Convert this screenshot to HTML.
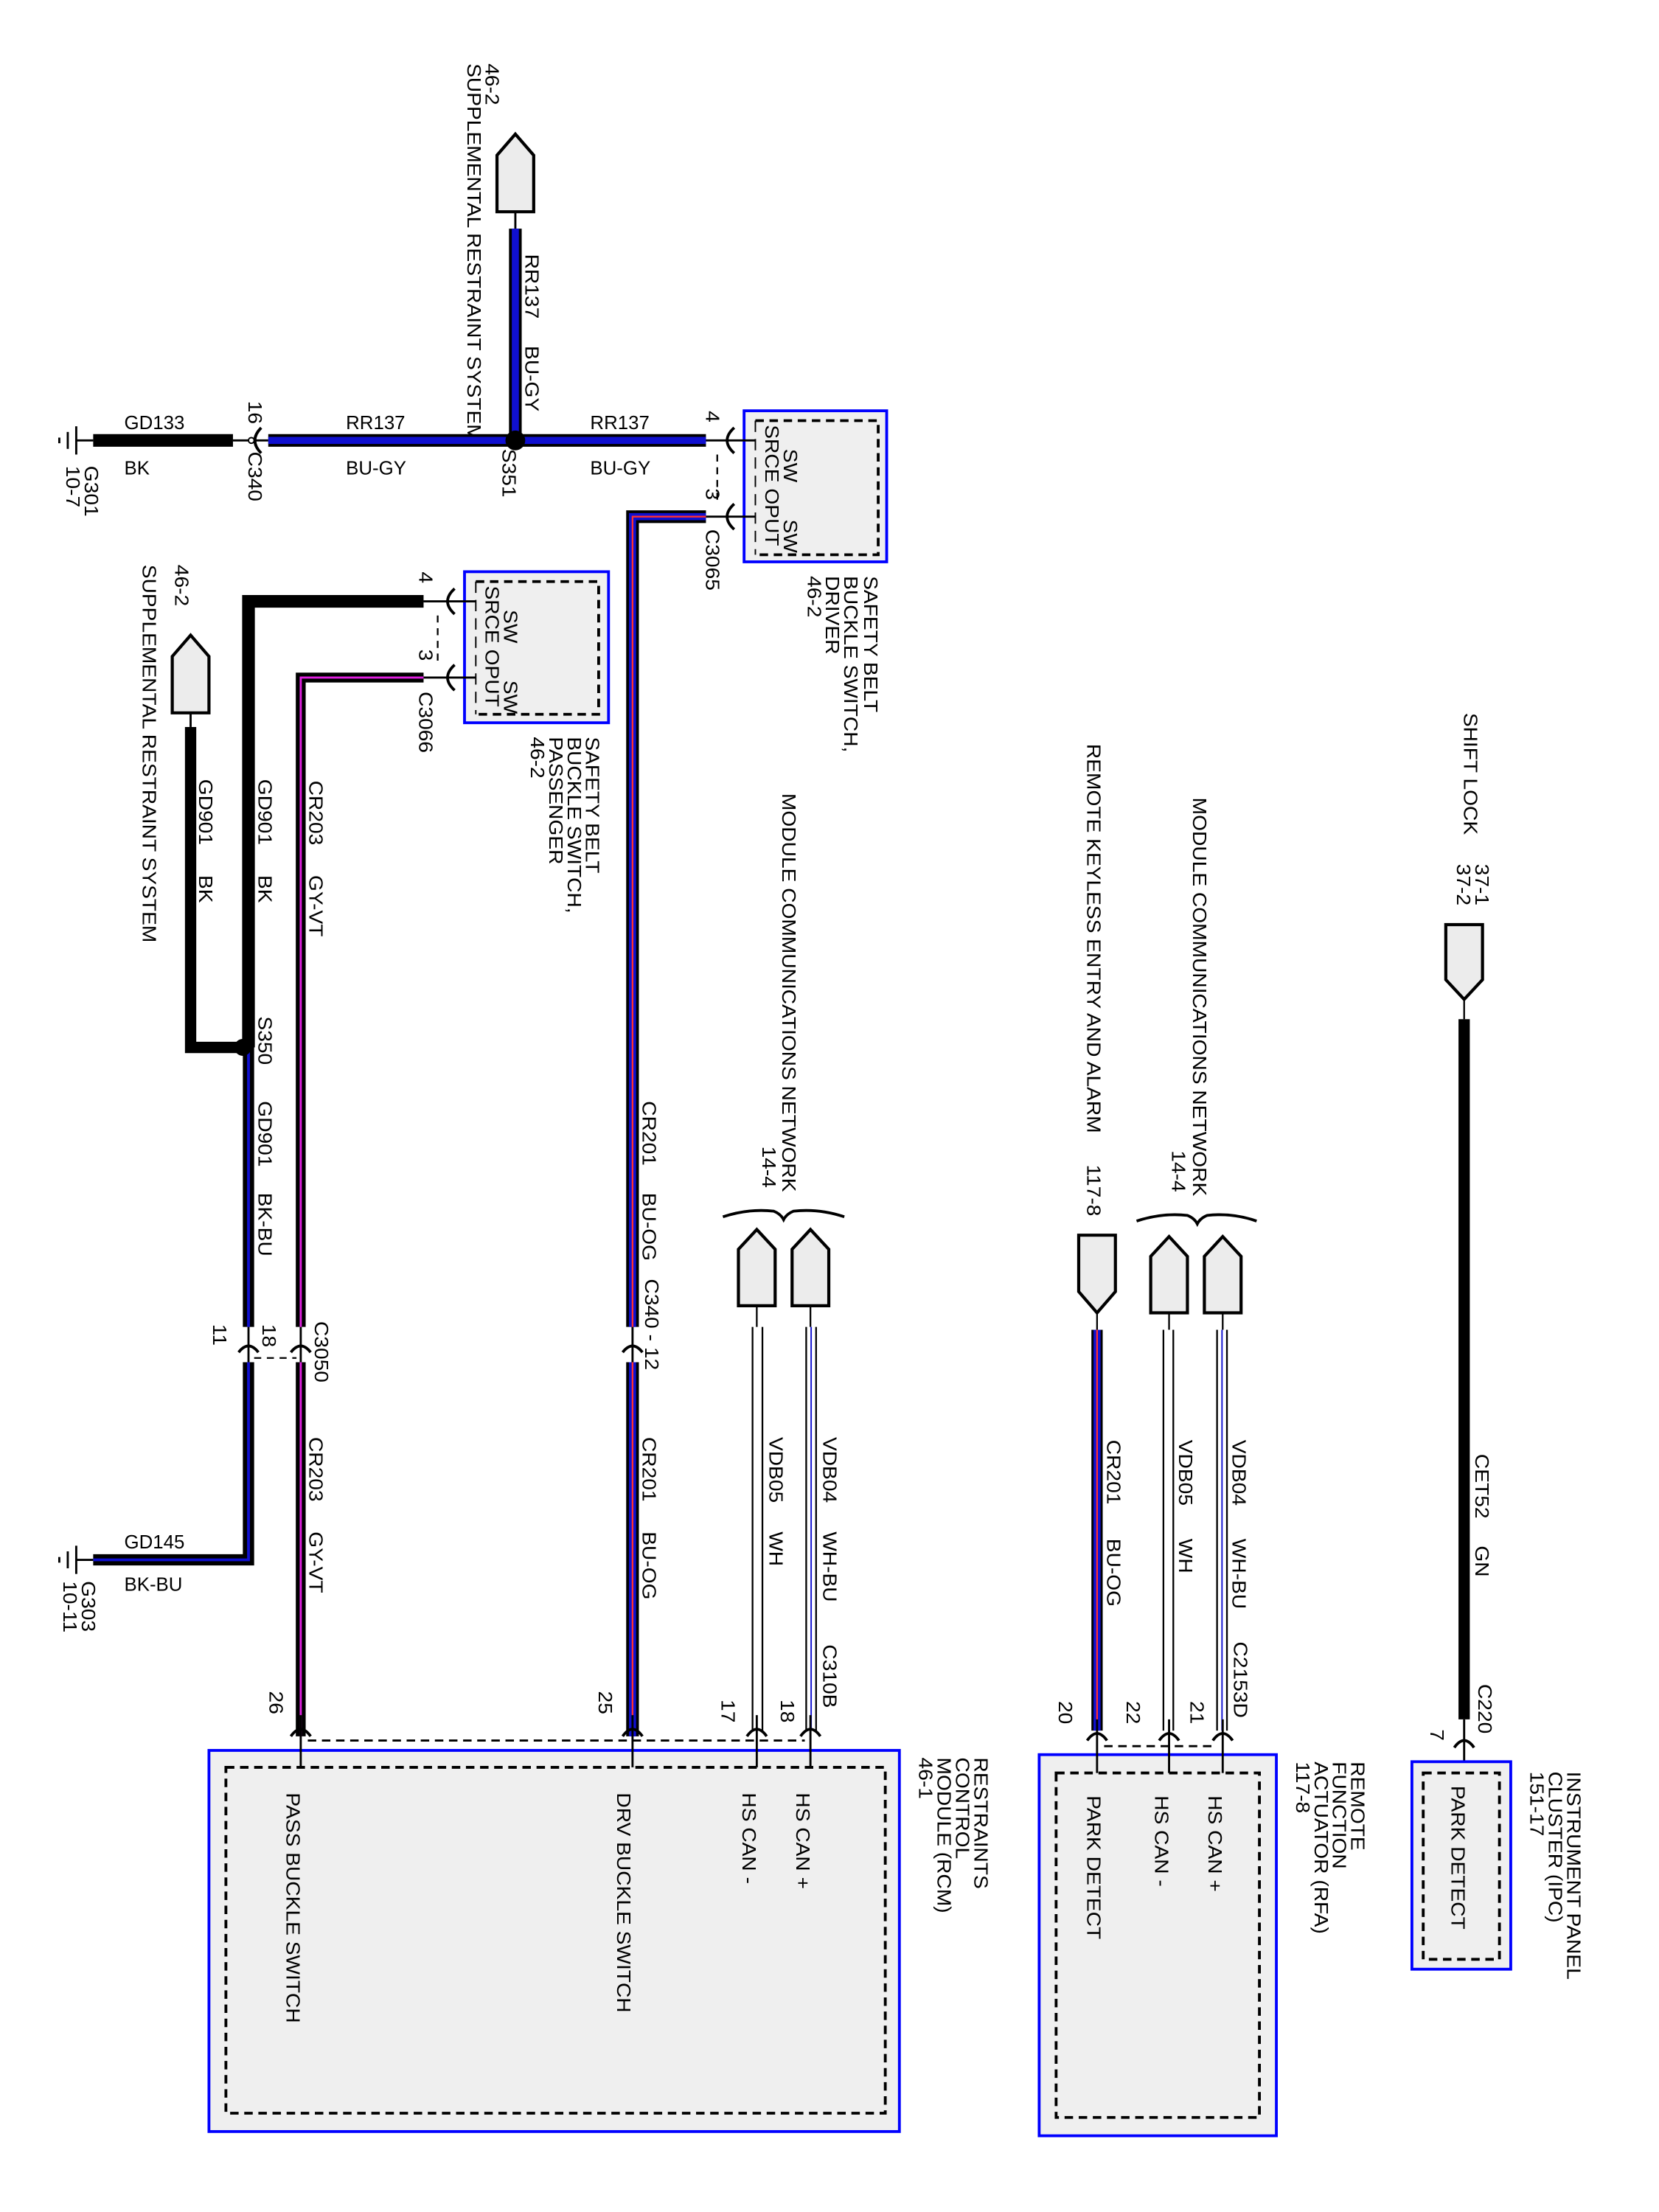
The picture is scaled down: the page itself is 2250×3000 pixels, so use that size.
<!DOCTYPE html>
<html><head><meta charset="utf-8"><style>
html,body{margin:0;padding:0;background:#fff;}
svg{display:block;}
text{font-family:"Liberation Sans",Arial,sans-serif;font-size:13.5px;fill:#000;}
</style></head><body>
<svg width="2250" height="3000" viewBox="0 0 1175 1567" preserveAspectRatio="none" xmlns="http://www.w3.org/2000/svg">
<defs>
<style>
.k{stroke:#000;fill:none;stroke-linecap:butt;}
.box{fill:#efefef;stroke:#0000ff;stroke-width:2;}
.dash{fill:none;stroke:#000;stroke-width:2;stroke-dasharray:6,4;}
.conn{fill:#ececec;stroke:#000;stroke-width:2.2;}
</style>
</defs>

<!-- ================= TOP: S351 area ================= -->
<text transform="translate(344,45) rotate(90) scale(1.09,1)">46-2</text>
<text transform="translate(331,45) rotate(90) scale(1.09,1)">SUPPLEMENTAL RESTRAINT SYSTEM</text>
<path class="conn" d="M352,150 L352,110 L365,95 L378,110 L378,150 Z"/>
<line class="k" x1="365" y1="150" x2="365" y2="162" stroke-width="1.5"/>
<line x1="365" y1="162" x2="365" y2="308" stroke="#000" stroke-width="9"/>
<line x1="365" y1="162" x2="365" y2="308" stroke="#1010d0" stroke-width="5"/>
<text transform="translate(372,180) rotate(90) scale(1.09,1)">RR137</text>
<text transform="translate(372,245) rotate(90) scale(1.09,1)">BU-GY</text>

<!-- ground G301 -->
<line class="k" x1="54" y1="312" x2="66" y2="312" stroke-width="1.5"/>
<line class="k" x1="54" y1="302" x2="54" y2="322" stroke-width="1.5"/>
<line class="k" x1="48" y1="306" x2="48" y2="318" stroke-width="1.5"/>
<line class="k" x1="42" y1="310" x2="42" y2="314" stroke-width="1.5"/>
<line x1="66" y1="312" x2="165" y2="312" stroke="#000" stroke-width="9"/>
<text x="88" y="304">GD133</text>
<text x="88" y="336">BK</text>
<text transform="translate(60,330) rotate(90) scale(1.09,1)">G301</text>
<text transform="translate(47,330) rotate(90) scale(1.09,1)">10-7</text>
<line class="k" x1="165" y1="312" x2="190" y2="312" stroke-width="1.5"/>
<path class="k" stroke-width="2" d="M185,303 Q176,312 185,321"/>
<circle cx="178" cy="312" r="2" fill="#fff" stroke="#000"/>
<text transform="translate(176,284) rotate(90) scale(1.09,1)">16</text>
<text transform="translate(176,320) rotate(90) scale(1.09,1)">C340</text>
<line x1="190" y1="312" x2="500" y2="312" stroke="#000" stroke-width="9"/>
<line x1="190" y1="312" x2="500" y2="312" stroke="#1010d0" stroke-width="5"/>
<circle cx="365" cy="312" r="7" fill="#000"/>
<text transform="translate(356,318) rotate(90) scale(1.09,1)">S351</text>
<text x="245" y="304">RR137</text>
<text x="245" y="336">BU-GY</text>
<text x="418" y="304">RR137</text>
<text x="418" y="336">BU-GY</text>

<!-- Driver switch -->
<rect class="box" x="527" y="291" width="101" height="107"/>
<path class="dash" d="M535,298 L622,298 L622,393 L535,393"/>
<line x1="535" y1="298" x2="535" y2="393" stroke="#000" stroke-width="1" stroke-dasharray="8,5"/>
<text transform="translate(555,318) rotate(90) scale(1.09,1)">SW</text>
<text transform="translate(555,368) rotate(90) scale(1.09,1)">SW</text>
<text transform="translate(542,301) rotate(90) scale(1.09,1)">SRCE</text>
<text transform="translate(542,346) rotate(90) scale(1.09,1)">OPUT</text>
<line class="k" x1="500" y1="312" x2="535" y2="312" stroke-width="1.5"/>
<line class="k" x1="500" y1="366" x2="535" y2="366" stroke-width="1.5"/>
<path class="k" stroke-width="2" d="M520,303 Q510,312 520,321"/>
<path class="k" stroke-width="2" d="M520,357 Q510,366 520,375"/>
<line class="k" x1="508" y1="322" x2="508" y2="356" stroke-width="1.2" stroke-dasharray="5,4"/>
<text transform="translate(500,291) rotate(90) scale(1.09,1)">4</text>
<text transform="translate(500,346) rotate(90) scale(1.09,1)">3</text>
<text transform="translate(500,375) rotate(90) scale(1.09,1)">C3065</text>
<text transform="translate(612,408) rotate(90) scale(1.09,1)">SAFETY BELT</text>
<text transform="translate(598,408) rotate(90) scale(1.09,1)">BUCKLE SWITCH,</text>
<text transform="translate(585,408) rotate(90) scale(1.09,1)">DRIVER</text>
<text transform="translate(572,408) rotate(90) scale(1.09,1)">46-2</text>

<!-- CR201 BU-OG driver wire -->
<path d="M500,366 L448,366 L448,940" stroke="#000" stroke-width="9" fill="none"/>
<path d="M500,366 L448,366 L448,940" stroke="#1010d0" stroke-width="5" fill="none"/>
<path d="M500,366 L448,366 L448,940" stroke="#ff3030" stroke-width="1.2" fill="none"/>
<line class="k" x1="448" y1="940" x2="448" y2="965" stroke-width="1.5"/>
<path class="k" stroke-width="2" d="M441,958 Q448,949 455,958"/>
<line x1="448" y1="965" x2="448" y2="1230" stroke="#000" stroke-width="9"/>
<line x1="448" y1="965" x2="448" y2="1230" stroke="#1010d0" stroke-width="5"/>
<line x1="448" y1="965" x2="448" y2="1230" stroke="#ff3030" stroke-width="1.2"/>
<text transform="translate(455,780) rotate(90) scale(1.09,1)">CR201</text>
<text transform="translate(455,845) rotate(90) scale(1.09,1)">BU-OG</text>
<text transform="translate(457,906) rotate(90) scale(1.09,1)">C340  -  12</text>
<text transform="translate(455,1018) rotate(90) scale(1.09,1)">CR201</text>
<text transform="translate(455,1085) rotate(90) scale(1.09,1)">BU-OG</text>

<!-- Passenger switch -->
<rect class="box" x="329" y="405" width="102" height="107"/>
<path class="dash" d="M337,412 L424,412 L424,506 L337,506"/>
<line x1="337" y1="412" x2="337" y2="506" stroke="#000" stroke-width="1" stroke-dasharray="8,5"/>
<text transform="translate(357,432) rotate(90) scale(1.09,1)">SW</text>
<text transform="translate(357,482) rotate(90) scale(1.09,1)">SW</text>
<text transform="translate(344,415) rotate(90) scale(1.09,1)">SRCE</text>
<text transform="translate(344,460) rotate(90) scale(1.09,1)">OPUT</text>
<line class="k" x1="300" y1="426" x2="337" y2="426" stroke-width="1.5"/>
<line class="k" x1="300" y1="480" x2="337" y2="480" stroke-width="1.5"/>
<path class="k" stroke-width="2" d="M322,417 Q312,426 322,435"/>
<path class="k" stroke-width="2" d="M322,471 Q312,480 322,489"/>
<line class="k" x1="310" y1="436" x2="310" y2="470" stroke-width="1.2" stroke-dasharray="5,4"/>
<text transform="translate(297,405) rotate(90) scale(1.09,1)">4</text>
<text transform="translate(297,460) rotate(90) scale(1.09,1)">3</text>
<text transform="translate(297,490) rotate(90) scale(1.09,1)">C3066</text>
<text transform="translate(415,522) rotate(90) scale(1.09,1)">SAFETY BELT</text>
<text transform="translate(402,522) rotate(90) scale(1.09,1)">BUCKLE SWITCH,</text>
<text transform="translate(389,522) rotate(90) scale(1.09,1)">PASSENGER</text>
<text transform="translate(376,522) rotate(90) scale(1.09,1)">46-2</text>

<!-- GD901 BK -->
<path d="M300,426 L176,426 L176,742" stroke="#000" stroke-width="9" fill="none"/>
<text transform="translate(183,552) rotate(90) scale(1.09,1)">GD901</text>
<text transform="translate(183,620) rotate(90) scale(1.09,1)">BK</text>
<text transform="translate(183,720) rotate(90) scale(1.09,1)">S350</text>
<line x1="176" y1="742" x2="176" y2="940" stroke="#000" stroke-width="8"/>
<line x1="176" y1="742" x2="176" y2="940" stroke="#1010d0" stroke-width="2"/>
<text transform="translate(183,780) rotate(90) scale(1.09,1)">GD901</text>
<text transform="translate(183,845) rotate(90) scale(1.09,1)">BK-BU</text>

<!-- left 46-2 SRS -->
<text transform="translate(124,400) rotate(90) scale(1.09,1)">46-2</text>
<text transform="translate(101,400) rotate(90) scale(1.09,1)">SUPPLEMENTAL RESTRAINT SYSTEM</text>
<path class="conn" d="M122,505 L122,465 L135,450 L148,465 L148,505 Z"/>
<line class="k" x1="135" y1="505" x2="135" y2="515" stroke-width="1.5"/>
<path d="M135,515 L135,742 L172,742" stroke="#000" stroke-width="8" fill="none"/>
<circle cx="172" cy="742" r="6" fill="#000"/>
<text transform="translate(141,552) rotate(90) scale(1.09,1)">GD901</text>
<text transform="translate(141,620) rotate(90) scale(1.09,1)">BK</text>

<!-- C3050 -->
<line class="k" x1="176" y1="940" x2="176" y2="965" stroke-width="1.5"/>
<path class="k" stroke-width="2" d="M169,958 Q176,949 183,958"/>
<line class="k" x1="213" y1="940" x2="213" y2="965" stroke-width="1.5"/>
<path class="k" stroke-width="2" d="M206,958 Q213,949 220,958"/>
<line class="k" x1="180" y1="962" x2="210" y2="962" stroke-width="1.2" stroke-dasharray="5,4"/>
<text transform="translate(151,938) rotate(90) scale(1.09,1)">11</text>
<text transform="translate(186,938) rotate(90) scale(1.09,1)">18</text>
<text transform="translate(223,936) rotate(90) scale(1.09,1)">C3050</text>
<path d="M176,965 L176,1105 L66,1105" stroke="#000" stroke-width="8" fill="none"/>
<path d="M176,965 L176,1105 L66,1105" stroke="#1010d0" stroke-width="2" fill="none"/>
<text x="88" y="1097">GD145</text>
<text x="88" y="1127">BK-BU</text>
<line class="k" x1="54" y1="1105" x2="66" y2="1105" stroke-width="1.5"/>
<line class="k" x1="54" y1="1095" x2="54" y2="1115" stroke-width="1.5"/>
<line class="k" x1="48" y1="1099" x2="48" y2="1111" stroke-width="1.5"/>
<line class="k" x1="42" y1="1103" x2="42" y2="1107" stroke-width="1.5"/>
<text transform="translate(58,1120) rotate(90) scale(1.09,1)">G303</text>
<text transform="translate(45,1120) rotate(90) scale(1.09,1)">10-11</text>

<!-- CR203 GY-VT -->
<path d="M300,480 L213,480 L213,940" stroke="#000" stroke-width="7" fill="none"/>
<path d="M300,480 L213,480 L213,940" stroke="#e020e0" stroke-width="1.5" fill="none"/>
<line x1="213" y1="965" x2="213" y2="1230" stroke="#000" stroke-width="7"/>
<line x1="213" y1="965" x2="213" y2="1230" stroke="#e020e0" stroke-width="1.5"/>
<text transform="translate(219,553) rotate(90) scale(1.09,1)">CR203</text>
<text transform="translate(219,620) rotate(90) scale(1.09,1)">GY-VT</text>
<text transform="translate(219,1018) rotate(90) scale(1.09,1)">CR203</text>
<text transform="translate(219,1085) rotate(90) scale(1.09,1)">GY-VT</text>

<!-- RCM network connectors -->
<text transform="translate(554,562) rotate(90) scale(1.09,1)">MODULE COMMUNICATIONS NETWORK</text>
<text transform="translate(540,812) rotate(90) scale(1.09,1)">14-4</text>
<path class="k" stroke-width="2" d="M512,862 Q530,856 548,858 Q553,860 555,864 Q557,860 562,858 Q580,856 598,862"/>
<path class="conn" d="M523,925 L523,885 L536,871 L549,885 L549,925 Z"/>
<path class="conn" d="M561,925 L561,885 L574,871 L587,885 L587,925 Z"/>
<line class="k" x1="536" y1="925" x2="536" y2="940" stroke-width="1.2"/>
<line class="k" x1="574" y1="925" x2="574" y2="940" stroke-width="1.2"/>
<line class="k" x1="533" y1="940" x2="533" y2="1226" stroke-width="1.2"/>
<line class="k" x1="540" y1="940" x2="540" y2="1226" stroke-width="1.2"/>
<line class="k" x1="571" y1="940" x2="571" y2="1226" stroke-width="1.2"/>
<line class="k" x1="578" y1="940" x2="578" y2="1226" stroke-width="1.2"/>
<line x1="574.5" y1="940" x2="574.5" y2="1226" stroke="#1010d0" stroke-width="1"/>
<text transform="translate(545,1018) rotate(90) scale(1.09,1)">VDB05</text>
<text transform="translate(545,1085) rotate(90) scale(1.09,1)">WH</text>
<text transform="translate(583,1018) rotate(90) scale(1.09,1)">VDB04</text>
<text transform="translate(583,1085) rotate(90) scale(1.09,1)">WH-BU</text>
<text transform="translate(583,1165) rotate(90) scale(1.09,1)">C310B</text>

<!-- RCM box -->
<rect class="box" x="148" y="1240" width="489" height="270"/>
<rect class="dash" x="160" y="1252" width="467" height="245"/>
<g stroke="#000" stroke-width="2" fill="none">
<path d="M206,1230 Q213,1220 220,1230"/><line x1="213" y1="1215" x2="213" y2="1252" stroke-width="1.5"/>
<path d="M441,1230 Q448,1220 455,1230"/><line x1="448" y1="1215" x2="448" y2="1252" stroke-width="1.5"/>
<path d="M529,1230 Q536,1220 543,1230"/><line x1="536" y1="1215" x2="536" y2="1252" stroke-width="1.5"/>
<path d="M567,1230 Q574,1220 581,1230"/><line x1="574" y1="1215" x2="574" y2="1252" stroke-width="1.5"/>
</g>
<line class="k" x1="218" y1="1233" x2="570" y2="1233" stroke-width="1.5" stroke-dasharray="6,4"/>
<text transform="translate(191,1198) rotate(90) scale(1.09,1)">26</text>
<text transform="translate(424,1198) rotate(90) scale(1.09,1)">25</text>
<text transform="translate(511,1204) rotate(90) scale(1.09,1)">17</text>
<text transform="translate(553,1204) rotate(90) scale(1.09,1)">18</text>
<text transform="translate(203,1270) rotate(90) scale(1.09,1)">PASS BUCKLE SWITCH</text>
<text transform="translate(437,1270) rotate(90) scale(1.09,1)">DRV BUCKLE SWITCH</text>
<text transform="translate(526,1270) rotate(90) scale(1.09,1)">HS CAN -</text>
<text transform="translate(564,1270) rotate(90) scale(1.09,1)">HS CAN +</text>
<text transform="translate(690,1245) rotate(90) scale(1.09,1)">RESTRAINTS</text>
<text transform="translate(677,1245) rotate(90) scale(1.09,1)">CONTROL</text>
<text transform="translate(664,1245) rotate(90) scale(1.09,1)">MODULE (RCM)</text>
<text transform="translate(651,1245) rotate(90) scale(1.09,1)">46-1</text>

<!-- RFA -->
<text transform="translate(770,527) rotate(90) scale(1.09,1)">REMOTE KEYLESS ENTRY AND ALARM</text>
<text transform="translate(770,825) rotate(90) scale(1.09,1)">117-8</text>
<path class="conn" d="M764,875 L790,875 L790,915 L777,930 L764,915 Z"/>
<line class="k" x1="777" y1="930" x2="777" y2="942" stroke-width="1.2"/>
<line x1="777" y1="942" x2="777" y2="1226" stroke="#000" stroke-width="8"/>
<line x1="777" y1="942" x2="777" y2="1226" stroke="#1010d0" stroke-width="5"/>
<line x1="777" y1="942" x2="777" y2="1226" stroke="#ff3030" stroke-width="1.2"/>
<text transform="translate(784,1020) rotate(90) scale(1.09,1)">CR201</text>
<text transform="translate(784,1090) rotate(90) scale(1.09,1)">BU-OG</text>

<text transform="translate(845,565) rotate(90) scale(1.09,1)">MODULE COMMUNICATIONS NETWORK</text>
<text transform="translate(830,815) rotate(90) scale(1.09,1)">14-4</text>
<path class="k" stroke-width="2" d="M805,865 Q823,859 841,861 Q846,863 848,867 Q850,863 855,861 Q873,859 890,865"/>
<path class="conn" d="M815,930 L815,890 L828,876 L841,890 L841,930 Z"/>
<path class="conn" d="M853,930 L853,890 L866,876 L879,890 L879,930 Z"/>
<line class="k" x1="828" y1="930" x2="828" y2="942" stroke-width="1.2"/>
<line class="k" x1="866" y1="930" x2="866" y2="942" stroke-width="1.2"/>
<line class="k" x1="824" y1="942" x2="824" y2="1226" stroke-width="1.2"/>
<line class="k" x1="831" y1="942" x2="831" y2="1226" stroke-width="1.2"/>
<line class="k" x1="862" y1="942" x2="862" y2="1226" stroke-width="1.2"/>
<line class="k" x1="869" y1="942" x2="869" y2="1226" stroke-width="1.2"/>
<line x1="865.5" y1="942" x2="865.5" y2="1226" stroke="#1010d0" stroke-width="1"/>
<text transform="translate(835,1020) rotate(90) scale(1.09,1)">VDB05</text>
<text transform="translate(835,1090) rotate(90) scale(1.09,1)">WH</text>
<text transform="translate(873,1020) rotate(90) scale(1.09,1)">VDB04</text>
<text transform="translate(873,1090) rotate(90) scale(1.09,1)">WH-BU</text>
<text transform="translate(874,1163) rotate(90) scale(1.09,1)">C2153D</text>

<rect class="box" x="736" y="1243" width="168" height="270"/>
<rect class="dash" x="748" y="1256" width="144" height="244"/>
<g stroke="#000" stroke-width="2" fill="none">
<path d="M770,1233 Q777,1223 784,1233"/><line x1="777" y1="1218" x2="777" y2="1256" stroke-width="1.5"/>
<path d="M821,1233 Q828,1223 835,1233"/><line x1="828" y1="1218" x2="828" y2="1256" stroke-width="1.5"/>
<path d="M859,1233 Q866,1223 873,1233"/><line x1="866" y1="1218" x2="866" y2="1256" stroke-width="1.5"/>
</g>
<line class="k" x1="782" y1="1237" x2="862" y2="1237" stroke-width="1.5" stroke-dasharray="6,4"/>
<text transform="translate(750,1205) rotate(90) scale(1.09,1)">20</text>
<text transform="translate(798,1205) rotate(90) scale(1.09,1)">22</text>
<text transform="translate(843,1205) rotate(90) scale(1.09,1)">21</text>
<text transform="translate(770,1272) rotate(90) scale(1.09,1)">PARK DETECT</text>
<text transform="translate(818,1272) rotate(90) scale(1.09,1)">HS CAN -</text>
<text transform="translate(856,1272) rotate(90) scale(1.09,1)">HS CAN +</text>
<text transform="translate(957,1248) rotate(90) scale(1.09,1)">REMOTE</text>
<text transform="translate(944,1248) rotate(90) scale(1.09,1)">FUNCTION</text>
<text transform="translate(931,1248) rotate(90) scale(1.09,1)">ACTUATOR (RFA)</text>
<text transform="translate(918,1248) rotate(90) scale(1.09,1)">117-8</text>

<!-- IPC -->
<text transform="translate(1037,505) rotate(90) scale(1.09,1)">SHIFT LOCK</text>
<text transform="translate(1045,612) rotate(90) scale(1.09,1)">37-1</text>
<text transform="translate(1032,612) rotate(90) scale(1.09,1)">37-2</text>
<path class="conn" d="M1024,655 L1050,655 L1050,694 L1037,708 L1024,694 Z"/>
<line class="k" x1="1037" y1="708" x2="1037" y2="722" stroke-width="1.2"/>
<line x1="1037" y1="722" x2="1037" y2="1218" stroke="#000" stroke-width="8"/>
<text transform="translate(1045,1030) rotate(90) scale(1.09,1)">CET52</text>
<text transform="translate(1045,1095) rotate(90) scale(1.09,1)">GN</text>
<text transform="translate(1047,1193) rotate(90) scale(1.09,1)">C220</text>
<text transform="translate(1013,1225) rotate(90) scale(1.09,1)">7</text>
<line class="k" x1="1037" y1="1218" x2="1037" y2="1256" stroke-width="1.5"/>
<path class="k" stroke-width="2" d="M1030,1238 Q1037,1228 1044,1238"/>
<rect class="box" x="1000" y="1248" width="70" height="147"/>
<rect class="dash" x="1008" y="1256" width="54" height="132"/>
<text transform="translate(1028,1265) rotate(90) scale(1.09,1)">PARK DETECT</text>
<text transform="translate(1110,1255) rotate(90) scale(1.09,1)">INSTRUMENT PANEL</text>
<text transform="translate(1097,1255) rotate(90) scale(1.09,1)">CLUSTER (IPC)</text>
<text transform="translate(1084,1255) rotate(90) scale(1.09,1)">151-17</text>
</svg>
</body></html>
